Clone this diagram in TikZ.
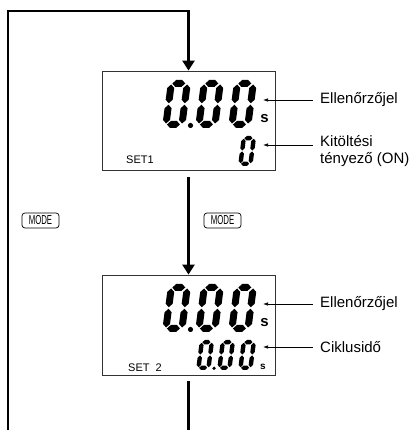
\documentclass[tikz,border=0pt]{standalone}
\usepackage{fontspec}
\setmainfont{Liberation Sans}
\usepackage{graphicx}
\usetikzlibrary{arrows.meta}

% one seven-segment "0": lower left corner x, y and size
\newcommand{\lcdzero}[3]{%
  \begin{scope}[shift={(#1,#2)},scale=#3,xslant=0.13]
    \foreach \sy in {0,41}
      \fill (4.5,\sy+3.5) -- ++(3.5,3.5) -- ++(6,0) -- ++(3.5,-3.5) -- ++(-3.5,-3.5) -- ++(-6,0) -- cycle;
    \foreach \sx in {3.5,19.5} \foreach \sy in {4.5,24.75}
      \fill (\sx,\sy) -- ++(3.5,3.5) -- ++(0,11.75) -- ++(-3.5,3.5) -- ++(-3.5,-3.5) -- ++(0,-11.75) -- cycle;
  \end{scope}}

\begin{document}
\begin{tikzpicture}[x=1pt,y=1pt,
    flow/.style={line width=2.4pt},
    lcd/.style={draw=black!80,line width=0.8pt,minimum width=173pt,minimum height=99pt,inner sep=0pt},
    pointer/.style={line width=0.7pt,-{Latex[length=5pt,width=3.5pt]},shorten <=7pt},
    lbl/.style={anchor=west,inner sep=0pt,font=\fontsize{15}{17}\selectfont,align=left},
    modekey/.style={draw,rounded corners=3pt,line width=0.7pt,minimum width=37pt,minimum height=15pt,inner sep=0pt,font=\fontsize{13}{13}\selectfont}]
  \useasboundingbox (0,0) rectangle (417,430);
  \node[lcd] (box1) at (188.5,309.5) {};
  \node[lcd,minimum height=100pt] (box2) at (188.5,105) {};
  \coordinate (in) at (8,0);
  \coordinate (top) at (8,419);
  \coordinate (out) at (188.5,0);

  % loop and steps
  \draw[flow,-{Triangle[length=10pt,width=12pt]}] (in) -- (top) -| (box1.north);
  \draw[flow,-{Triangle[length=10pt,width=12pt]}] ([yshift=-7pt]box1.south) -- (box2.north);
  \draw[flow] ([yshift=-6pt]box2.south) -- (out);
  \node[modekey] (k1) at (40.5,209.5) {\scalebox{0.6}[1]{MODE}};
  \node[modekey] (k2) at (222.5,209.5) {\scalebox{0.6}[1]{MODE}};

  % display 1
  \foreach \dx in {162,195,228} \lcdzero{\dx}{302}{1};
  \fill (190.5,304.5) circle (2.6);
  \lcdzero{238}{264}{0.625}
  \node[font=\bfseries\fontsize{15}{15}\selectfont] (s1) at (264.5,311) {s};
  \node[font=\fontsize{11}{11}\selectfont] (set1) at (140,270) {SET1};

  % display 2
  \foreach \dx in {162,195,228} \lcdzero{\dx}{98}{1};
  \fill (190.5,100.5) circle (2.6);
  \foreach \dx in {196,217,238} \lcdzero{\dx}{60}{0.625};
  \fill (214,61.7) circle (1.8);
  \node[font=\bfseries\fontsize{15}{15}\selectfont] (s2) at (264.5,107) {s};
  \node[font=\bfseries\fontsize{10}{10}\selectfont] (s3) at (263,63) {s};
  \node[font=\fontsize{11}{11}\selectfont] (set2) at (145,62) {SET\ \ 2};

  % pointers
  \coordinate (t1) at (263,330);
  \coordinate (t2) at (263,285);
  \coordinate (t3) at (263,126);
  \coordinate (t4) at (263,83);
  \node[lbl] (l1) at (320,330) {Ellenőrzőjel};
  \node[lbl] (l2) at (320,278.5) {Kitöltési\\tényező (ON)};
  \node[lbl] (l3) at (320,126) {Ellenőrzőjel};
  \node[lbl] (l4) at (320,83) {Ciklusidő};
  \draw[pointer] (l1.west) -- (t1);
  \draw[pointer] (l2.west |- t2) -- (t2);
  \draw[pointer] (l3.west) -- (t3);
  \draw[pointer] (l4.west) -- (t4);
\end{tikzpicture}
\end{document}
